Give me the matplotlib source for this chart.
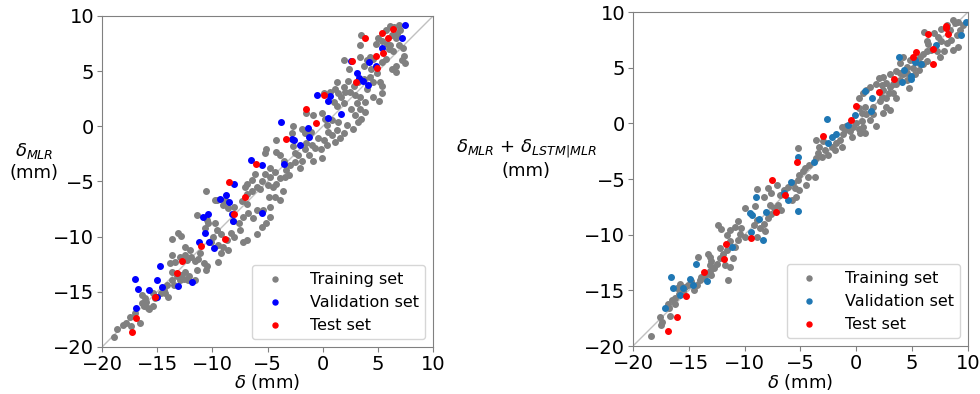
import numpy as np
import matplotlib
matplotlib.use("Agg")
import matplotlib.pyplot as plt

# ---- left panel: delta_MLR vs delta ----
left_train = [
    (-18.9, -19.1), (-18.6, -18.4), (-18.1, -18.0), (-17.8, -17.8), (-17.5, -17.3), (-17.4, -18.1),
    (-16.6, -17.8), (-17.0, -16.9), (-16.4, -16.0), (-16.2, -16.3), (-15.8, -16.5), (-15.7, -16.6),
    (-15.4, -16.3), (-16.0, -15.9), (-16.4, -15.3), (-16.1, -15.6), (-15.4, -15.1), (-15.2, -15.6),
    (-14.7, -15.1), (-14.4, -14.8), (-14.3, -15.1), (-14.0, -15.5), (-14.1, -14.4), (-13.7, -13.9),
    (-13.5, -14.4), (-13.2, -13.6), (-12.9, -13.9), (-12.8, -13.5), (-12.6, -13.8), (-12.5, -13.2),
    (-12.2, -13.9), (-12.1, -13.6), (-13.7, -13.2), (-13.8, -12.4), (-13.7, -11.7), (-13.4, -12.3),
    (-12.9, -11.8), (-12.5, -11.7), (-12.3, -12.1), (-11.9, -11.8), (-11.6, -12.2), (-11.3, -12.0),
    (-11.1, -11.5), (-10.8, -12.4), (-10.5, -12.7), (-10.6, -13.0), (-11.4, -13.0), (-11.6, -13.9),
    (-13.1, -9.7), (-12.8, -9.9), (-13.7, -10.2), (-12.5, -10.9), (-12.0, -11.2), (-11.4, -8.0),
    (-10.5, -8.5), (-10.4, -8.8), (-10.7, -9.2), (-9.8, -8.8), (-9.6, -9.4), (-9.9, -10.0),
    (-10.1, -10.5), (-9.2, -9.8), (-9.5, -10.8), (-9.0, -10.9), (-9.2, -11.5), (-9.5, -12.3),
    (-8.6, -11.2), (-8.7, -10.3), (-8.3, -9.7), (-8.0, -10.0), (-7.5, -9.4), (-7.2, -10.5),
    (-6.9, -10.3), (-6.0, -9.8), (-8.1, -8.6), (-7.6, -8.8), (-7.2, -8.2), (-6.8, -7.9),
    (-6.3, -8.3), (-6.0, -7.6), (-6.9, -7.0), (-7.3, -6.8), (-8.0, -7.3), (-8.6, -7.4),
    (-9.0, -7.1), (-9.6, -6.7), (-8.9, -6.7),
    (-10.6, -5.9), (-9.8, -6.7), (-7.0, -5.5), (-6.9, -5.2), (-6.4, -4.9), (-6.0, -5.5),
    (-5.5, -5.0), (-6.1, -4.3), (-5.2, -4.3), (-4.8, -4.6), (-5.0, -5.3), (-4.5, -5.5),
    (-4.2, -5.2), (-3.9, -4.7), (-4.3, -4.1), (-4.8, -3.8), (-5.2, -2.4), (-5.1, -2.1),
    (-4.2, -2.3), (-3.9, -2.6), (-3.5, -3.1), (-3.3, -4.0), (-3.1, -4.4), (-3.4, -4.6),
    (-3.0, -3.5), (-2.5, -3.2), (-2.5, -2.4), (-2.7, -1.8), (-2.2, -2.6), (-2.1, -3.8),
    (-1.9, -3.1), (-1.6, -2.1), (-1.5, -1.5), (-1.0, -1.7), (-1.2, -2.6), (-0.9, -3.1),
    (-0.7, -2.0), (-0.2, -2.1), (-0.1, -2.9), (0.1, -1.2), (-0.4, -1.1), (0.4, -1.7),
    (0.5, -0.5), (0.8, -0.8), (1.3, -0.3), (1.6, -1.1), (1.1, -1.4), (1.9, -0.6),
    (2.2, 0.1), (1.4, 0.4), (0.8, 0.6), (0.4, 0.1), (0.2, 0.7), (-0.1, 1.2),
    (-0.9, 1.0), (-1.1, -0.5), (-1.6, -0.6), (-1.9, -0.2), (-2.8, -0.6), (-2.7, 0.0),
    (-4.2, -1.2), (-1.5, 1.2), (1.3, 1.8), (1.9, 2.1), (1.0, 2.2), (-6.9, -6.1),
    (-6.4, -5.9), (-4.9, -6.4), (-5.7, -5.7), (-4.8, -8.2), (-5.1, -8.8), (-5.5, -9.1),
    (-4.8, -7.3), (-5.4, -7.6), (-3.9, -6.7), (-4.3, -6.4), (-3.6, -5.9),
    (6.1, 9.1), (6.5, 9.0), (6.9, 9.2), (7.0, 8.7), (6.7, 8.4), (6.3, 8.3),
    (6.6, 8.0), (5.7, 8.7), (5.0, 8.0), (3.5, 8.3), (3.4, 7.4), (4.8, 7.5),
    (5.4, 7.7), (5.8, 7.5), (6.1, 7.4), (6.0, 7.0), (6.4, 6.8), (6.9, 7.4),
    (7.3, 7.1), (7.4, 6.4), (7.2, 6.0), (7.5, 5.7), (6.6, 5.5), (6.3, 5.2),
    (6.6, 4.9), (5.7, 6.1), (5.4, 5.8), (4.6, 6.1), (4.3, 6.3), (4.0, 6.0),
    (3.4, 6.3), (3.7, 5.5), (4.4, 5.2), (4.9, 4.8), (5.2, 4.0), (5.4, 3.7),
    (5.4, 3.0), (4.6, 2.7), (5.1, 2.3), (4.0, 3.4), (3.7, 4.3), (3.2, 4.0),
    (2.8, 3.7), (2.5, 3.1), (2.9, 2.8), (3.4, 2.7), (3.8, 2.2), (3.1, 2.1),
    (2.6, 1.6), (3.4, 1.6), (2.9, 1.0), (3.5, 0.7), (3.2, 0.4), (2.7, -0.2),
    (3.8, 1.3), (1.9, 6.0), (2.3, 4.1), (1.3, 4.0), (1.9, 3.6), (2.0, 3.1),
    (1.4, 3.0), (1.7, 2.7), (1.1, 3.4), (0.7, 3.1), (0.1, 3.0), (2.4, 5.2),
    (4.6, 4.0), (4.3, 4.5),
]
left_val = [
    (7.47, 9.17), (7.2, 8.0), (5.35, 7.1), (4.2, 5.8), (2.55, 5.95), (4.84, 5.48), (3.09, 4.84),
    (3.3, 4.36), (3.69, 4.09), (4.09, 3.75), (-0.51, 2.87), (0.7, 2.76), (0.52, 2.28), (1.64, 1.1),
    (0.46, 0.79), (-3.8, 0.4), (-1.33, -0.12), (-1.27, -0.94), (-2.8, -1.12), (-2.57, -1.23),
    (-2.05, -1.69), (-6.52, -3.05), (-5.53, -3.53), (-3.47, -3.41), (-8.01, -5.22), (-8.76, -6.22),
    (-9.27, -6.61), (-8.46, -6.83), (-10.82, -8.21), (-10.42, -7.94), (-8.25, -7.91), (-8.1, -8.6),
    (-5.49, -7.85), (-10.64, -9.69), (-11.21, -10.45), (-10.3, -10.48), (-9.87, -11.05),
    (-14.71, -12.63), (-17.0, -13.84), (-14.99, -13.93), (-16.76, -14.74), (-15.74, -14.83),
    (-14.56, -14.59), (-13.14, -14.44), (-11.81, -14.13), (-14.99, -15.44), (-16.89, -16.49),
]
left_test = [
    (6.41, 8.8), (5.41, 8.5), (5.96, 8.04), (3.84, 8.01), (5.48, 6.68), (4.81, 6.41), (2.69, 5.96),
    (4.93, 5.32), (2.99, 3.99), (0.15, 2.87), (-1.5, 1.6), (-0.6, 0.3), (-3.32, -1.12),
    (-6.01, -3.41), (-8.46, -5.01), (-7.0, -6.37), (-8.04, -7.94), (-8.82, -10.24),
    (-11.06, -10.82), (-12.72, -12.18), (-13.2, -13.29), (-15.17, -15.44), (-16.95, -17.34),
    (-17.25, -18.61),
]

# ---- right panel: delta_MLR + delta_LSTM|MLR vs delta ----
right_train = [
    (-18.4, -19.1), (-17.6, -17.4), (-17.4, -17.8), (-17.5, -18.1), (-16.7, -17.3), (-16.8, -16.6),
    (-16.9, -16.2), (-16.5, -15.9), (-16.2, -16.2), (-16.2, -15.7), (-15.9, -15.3), (-16.1, -14.8),
    (-15.8, -14.4), (-15.3, -14.7), (-15.5, -15.1), (-15.1, -14.5), (-14.8, -14.2), (-14.5, -15.0),
    (-14.3, -14.5), (-14.0, -14.1), (-13.9, -13.8), (-13.6, -13.9), (-13.4, -13.5), (-13.1, -13.3),
    (-13.0, -13.6), (-12.7, -13.0), (-12.5, -12.6), (-13.1, -12.7), (-14.2, -12.0), (-13.3, -11.7),
    (-13.1, -12.0), (-13.0, -12.4), (-12.2, -12.1), (-11.9, -11.7), (-12.2, -11.2), (-11.6, -11.4),
    (-11.8, -12.7), (-11.5, -14.1), (-11.3, -12.9), (-11.0, -12.1), (-11.3, -10.6), (-10.9, -11.1),
    (-10.6, -10.5), (-10.4, -9.9), (-10.0, -10.2), (-10.3, -9.4), (-10.6, -8.8), (-10.9, -9.3),
    (-10.0, -7.6), (-9.1, -7.4), (-9.2, -9.1), (-8.9, -8.7), (-8.6, -9.4), (-8.3, -9.0),
    (-7.9, -8.5), (-7.6, -8.1), (-7.4, -7.6), (-7.0, -7.3), (-6.7, -7.8), (-7.7, -7.3),
    (-8.2, -9.7), (-8.9, -10.2), (-12.4, -9.1), (-12.1, -9.5), (-11.3, -9.6), (-11.6, -10.0),
    (-8.9, -5.9), (-8.3, -6.6), (-7.9, -5.8), (-7.6, -6.3), (-7.1, -5.5), (-6.8, -6.4),
    (-6.5, -6.0), (-6.1, -5.7), (-5.7, -5.4), (-5.5, -5.8), (-5.4, -6.6), (-5.8, -6.9),
    (-5.2, -5.1), (-5.1, -4.6), (-4.8, -4.3), (-4.6, -4.0), (-4.3, -4.8), (-4.2, -3.7),
    (-3.7, -4.8), (-4.5, -5.5), (-5.1, -6.0), (-5.2, -2.2), (-3.6, -3.1), (-3.4, -2.7),
    (-3.1, -3.0), (-2.8, -2.4), (-2.5, -2.8), (-3.3, -2.1), (-3.6, -1.5), (-3.0, -1.6),
    (-2.2, -2.1), (-1.9, -2.4), (-1.8, -1.8), (-1.5, -1.5), (-1.3, -2.1), (-1.2, -1.0),
    (-1.0, -0.6), (-1.3, -0.3), (-0.9, -0.2), (-0.6, -0.7), (-0.4, -1.2), (-0.3, -0.3),
    (0.0, 0.0), (0.2, -0.5), (0.5, 0.2), (0.6, -0.3), (0.3, -0.9), (0.8, -0.9),
    (1.2, 0.3), (1.5, 0.8), (0.9, 0.8), (1.8, -0.2), (0.5, 0.9), (0.2, 1.4),
    (0.8, 1.5), (1.5, 1.5),
    (8.1, 8.8), (7.6, 8.5), (8.4, 8.4), (8.8, 9.0), (9.1, 9.1), (9.6, 8.8),
    (9.3, 8.4), (9.0, 7.9), (8.5, 7.5), (8.1, 7.2), (7.6, 7.4), (7.3, 7.8),
    (6.1, 8.2), (6.3, 7.4), (6.4, 7.1), (6.7, 6.6), (7.2, 6.5), (7.5, 6.0),
    (7.9, 6.5), (6.3, 6.5), (6.0, 6.2), (5.7, 6.0), (5.6, 5.4), (6.0, 5.3),
    (6.3, 5.6), (4.8, 5.7), (4.5, 5.1), (5.1, 5.0), (5.6, 4.8), (5.3, 4.4),
    (4.5, 4.5), (4.2, 4.4), (3.9, 3.9), (3.9, 4.5), (4.5, 3.9), (4.7, 3.2),
    (3.6, 3.5), (3.3, 3.5), (3.0, 3.3), (2.7, 3.6), (2.4, 3.0), (2.9, 2.7),
    (3.3, 2.7), (3.6, 2.3), (2.7, 2.3), (2.3, 3.4), (2.3, 2.4), (2.1, 2.0),
    (2.7, 1.5), (3.0, 1.2), (2.4, 0.9), (1.2, 3.3), (0.9, 3.0), (0.6, 2.7),
    (0.2, 2.3), (1.8, 3.5), (2.0, 4.1), (2.4, 4.2), (3.0, 4.4), (3.9, 5.4),
    (4.2, 6.0), (3.6, 4.7), (7.0, 8.1), (8.7, 9.3), (9.1, 6.9), (8.7, 6.6),
]
right_val = [
    (9.87, 9.14), (9.36, 7.97), (7.15, 7.07), (3.81, 5.97), (5.27, 5.49), (5.22, 5.7), (5.76, 5.31),
    (4.24, 4.83), (4.89, 4.29), (4.86, 3.99), (4.11, 3.75), (0.8, 2.88), (1.42, 2.25), (1.33, 1.11),
    (-0.13, 0.75), (-2.66, 0.4), (-0.72, -0.12), (-1.83, -0.98), (-2.18, -1.25), (-2.52, -1.73),
    (-5.23, -3.05), (-3.77, -3.44), (-5.86, -5.24), (-9.02, -6.64), (-6.48, -6.23), (-6.15, -6.88),
    (-9.5, -8.02), (-9.35, -8.23), (-8.69, -8.62), (-5.2, -7.87), (-8.06, -8.0), (-9.46, -9.76),
    (-8.33, -10.5), (-11.14, -11.08), (-14.36, -12.66), (-16.57, -13.83), (-14.87, -13.98),
    (-13.38, -14.16), (-16.42, -14.79), (-15.55, -14.82), (-14.6, -14.49), (-15.77, -15.44),
    (-17.16, -16.56),
]
right_test = [
    (8.0, 8.78), (8.0, 8.54), (8.17, 8.03), (6.44, 8.0), (6.89, 6.68), (5.34, 6.39), (5.1, 5.97),
    (6.89, 5.31), (3.34, 3.96), (2.05, 2.85), (-0.04, 1.56), (-0.48, 0.28), (-2.96, -1.13),
    (-5.32, -3.47), (-7.53, -5.06), (-6.36, -6.41), (-7.2, -7.99), (-9.44, -10.27),
    (-11.7, -10.86), (-11.88, -12.21), (-13.67, -13.35), (-15.26, -15.48), (-16.06, -17.39),
    (-16.84, -18.65),
]

lims = [-20, 10]
ticks = [-20, -15, -10, -5, 0, 5, 10]


def draw_panel(ax, train, val, test, val_color, ylabel, label_x):
    ax.plot(lims, lims, color="silver", lw=1, zorder=1)
    for pts, c, lab in [
        (train, "grey", "Training set"),
        (val, val_color, "Validation set"),
        (test, "red", "Test set"),
    ]:
        pts = np.array(pts)
        ax.scatter(pts[:, 0], pts[:, 1], s=16, color=c, label=lab, zorder=2)
    ax.set_xlim(lims)
    ax.set_ylim(lims)
    ax.set_xticks(ticks)
    ax.set_yticks(ticks)
    ax.tick_params(labelsize=14, color="grey", pad=2)
    for sp in ax.spines.values():
        sp.set_color("grey")
    ax.set_xlabel("$\\delta$ (mm)", fontsize=13, va="center")
    ax.xaxis.set_label_coords(0.5, -0.107)
    ax.set_ylabel(ylabel, fontsize=13, rotation=0, ha="center", va="center")
    ax.yaxis.set_label_coords(label_x, 0.56)
    ax.legend(loc="lower right", fontsize=11.5, markerscale=0.9, handletextpad=1.2)


fig = plt.figure(figsize=(9.8, 3.94), dpi=100)
ax1 = fig.add_axes([0.1041, 0.1193, 0.3378, 0.8401])
ax2 = fig.add_axes([0.6459, 0.1218, 0.3418, 0.8477])

draw_panel(ax1, left_train, left_val, left_test, "blue", "$\\delta_{MLR}$\n(mm)", -0.205)
draw_panel(ax2, right_train, right_val, right_test, "tab:blue",
           "$\\delta_{MLR}$ + $\\delta_{LSTM|MLR}$\n(mm)", -0.318)

fig.savefig("out.png", dpi=100)
